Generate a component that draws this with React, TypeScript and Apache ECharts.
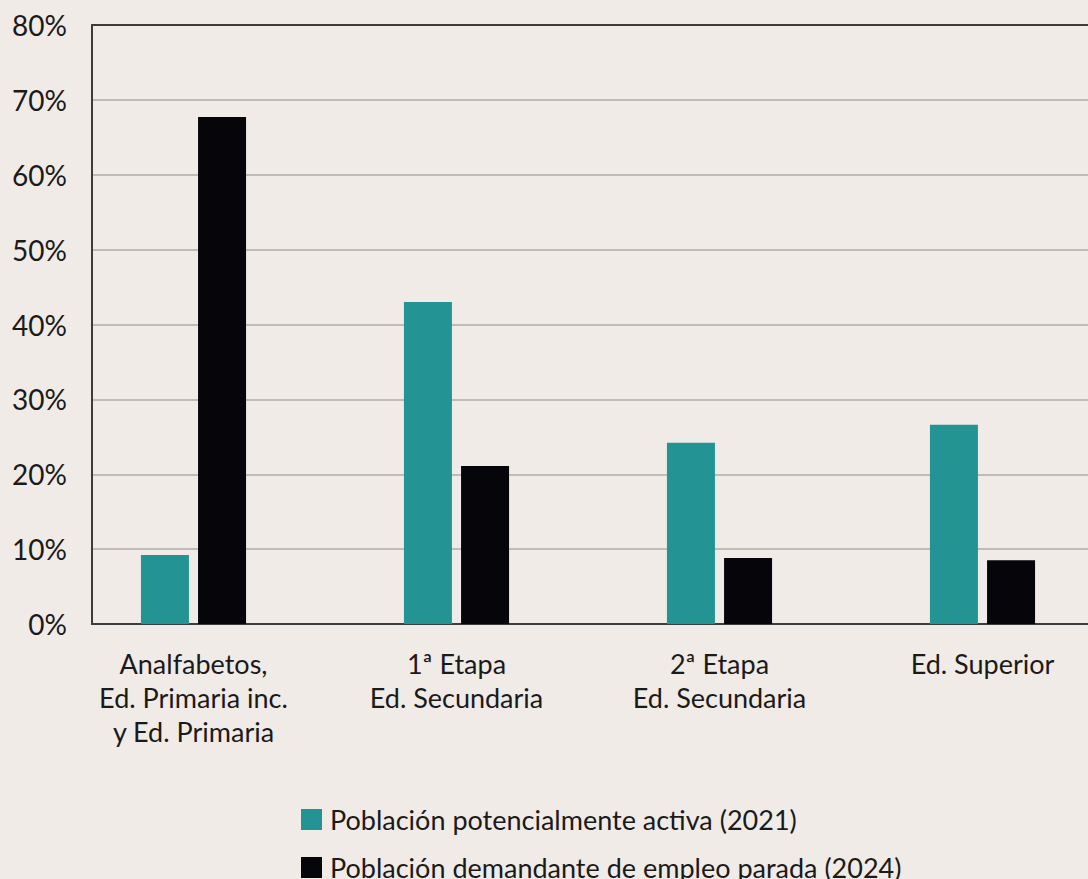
import React, { useEffect, useRef } from "react";
import * as echarts from "echarts";

const categories = [
  "Analfabetos,\nEd. Primaria inc.\ny Ed. Primaria",
  "1ª Etapa\nEd. Secundaria",
  "2ª Etapa\nEd. Secundaria",
  "Ed. Superior",
];
const seriesNames = [
  "Población potencialmente activa (2021)",
  "Población demandante de empleo parada (2024)",
];
const activa2021 = [9.2, 43.0, 24.2, 26.6];
const parada2024 = [67.7, 21.1, 8.8, 8.5];
const yMin = 0;
const yMax = 80;
const yStep = 10;

const FONT = "Lato";
const TEXT = "#1b1a1a";
const COLORS = ["#239394", "#06050a"];

export default function App() {
  const ref = useRef<HTMLDivElement>(null);
  useEffect(() => {
    if (!ref.current) return;
    const chart = echarts.init(ref.current, null, { renderer: "svg" });
    const axisDark = { show: true, lineStyle: { color: "#3c3c3c", width: 2 } };
    const legendBase = {
      orient: "vertical",
      left: 301,
      padding: 0,
      itemWidth: 21,
      itemHeight: 21,
      icon: "rect",
      textStyle: { fontFamily: FONT, fontSize: 27, color: TEXT, padding: [0, 0, 0, 3] },
    };
    chart.setOption({
      animation: false,
      backgroundColor: "#f0ebe7",
      color: COLORS,
      textStyle: { fontFamily: FONT, color: TEXT },
      grid: [
        { left: 92, right: 0, top: 25, bottom: 255, outerBoundsMode: "none" },
        { left: 62, width: 1052, top: 25, bottom: 255, outerBoundsMode: "none" },
      ],
      xAxis: [
        {
          type: "category",
          gridIndex: 0,
          data: categories,
          position: "bottom",
          axisLine: axisDark,
          axisTick: { show: false },
          axisLabel: { show: false },
        },
        {
          type: "category",
          gridIndex: 0,
          data: categories,
          position: "top",
          axisLine: axisDark,
          axisTick: { show: false },
          axisLabel: { show: false },
        },
        {
          type: "category",
          gridIndex: 1,
          data: categories,
          axisLine: { show: false },
          axisTick: { show: false },
          axisLabel: {
            fontFamily: FONT,
            fontSize: 27,
            lineHeight: 34,
            color: TEXT,
            margin: 22,
            interval: 0,
            align: "center",
          },
        },
      ],
      yAxis: [
        {
          type: "value",
          gridIndex: 0,
          min: yMin,
          max: yMax,
          interval: yStep,
          axisLine: axisDark,
          axisTick: { show: false },
          axisLabel: {
            formatter: "{value}%",
            fontFamily: FONT,
            fontSize: 28,
            color: TEXT,
            margin: 25,
          },
          splitLine: { show: true, lineStyle: { color: "#bfbbb8", width: 2 } },
        },
        {
          type: "value",
          gridIndex: 1,
          min: yMin,
          max: yMax,
          interval: yStep,
          show: false,
          splitLine: { show: false },
        },
      ],
      legend: [
        { ...legendBase, top: 806, data: [seriesNames[0]] },
        { ...legendBase, top: 854, data: [seriesNames[1]] },
      ],
      series: [
        {
          name: seriesNames[0],
          type: "bar",
          xAxisIndex: 2,
          yAxisIndex: 1,
          data: activa2021,
          barWidth: 48,
          barGap: "19%",
          itemStyle: { color: COLORS[0] },
        },
        {
          name: seriesNames[1],
          type: "bar",
          xAxisIndex: 2,
          yAxisIndex: 1,
          data: parada2024,
          barWidth: 48,
          barGap: "19%",
          itemStyle: { color: COLORS[1] },
        },
      ],
    });
    return () => chart.dispose();
  }, []);
  return (
    <div
      ref={ref}
      style={{ position: "fixed", left: 0, top: 0, width: 1088, height: 879 }}
    />
  );
}
